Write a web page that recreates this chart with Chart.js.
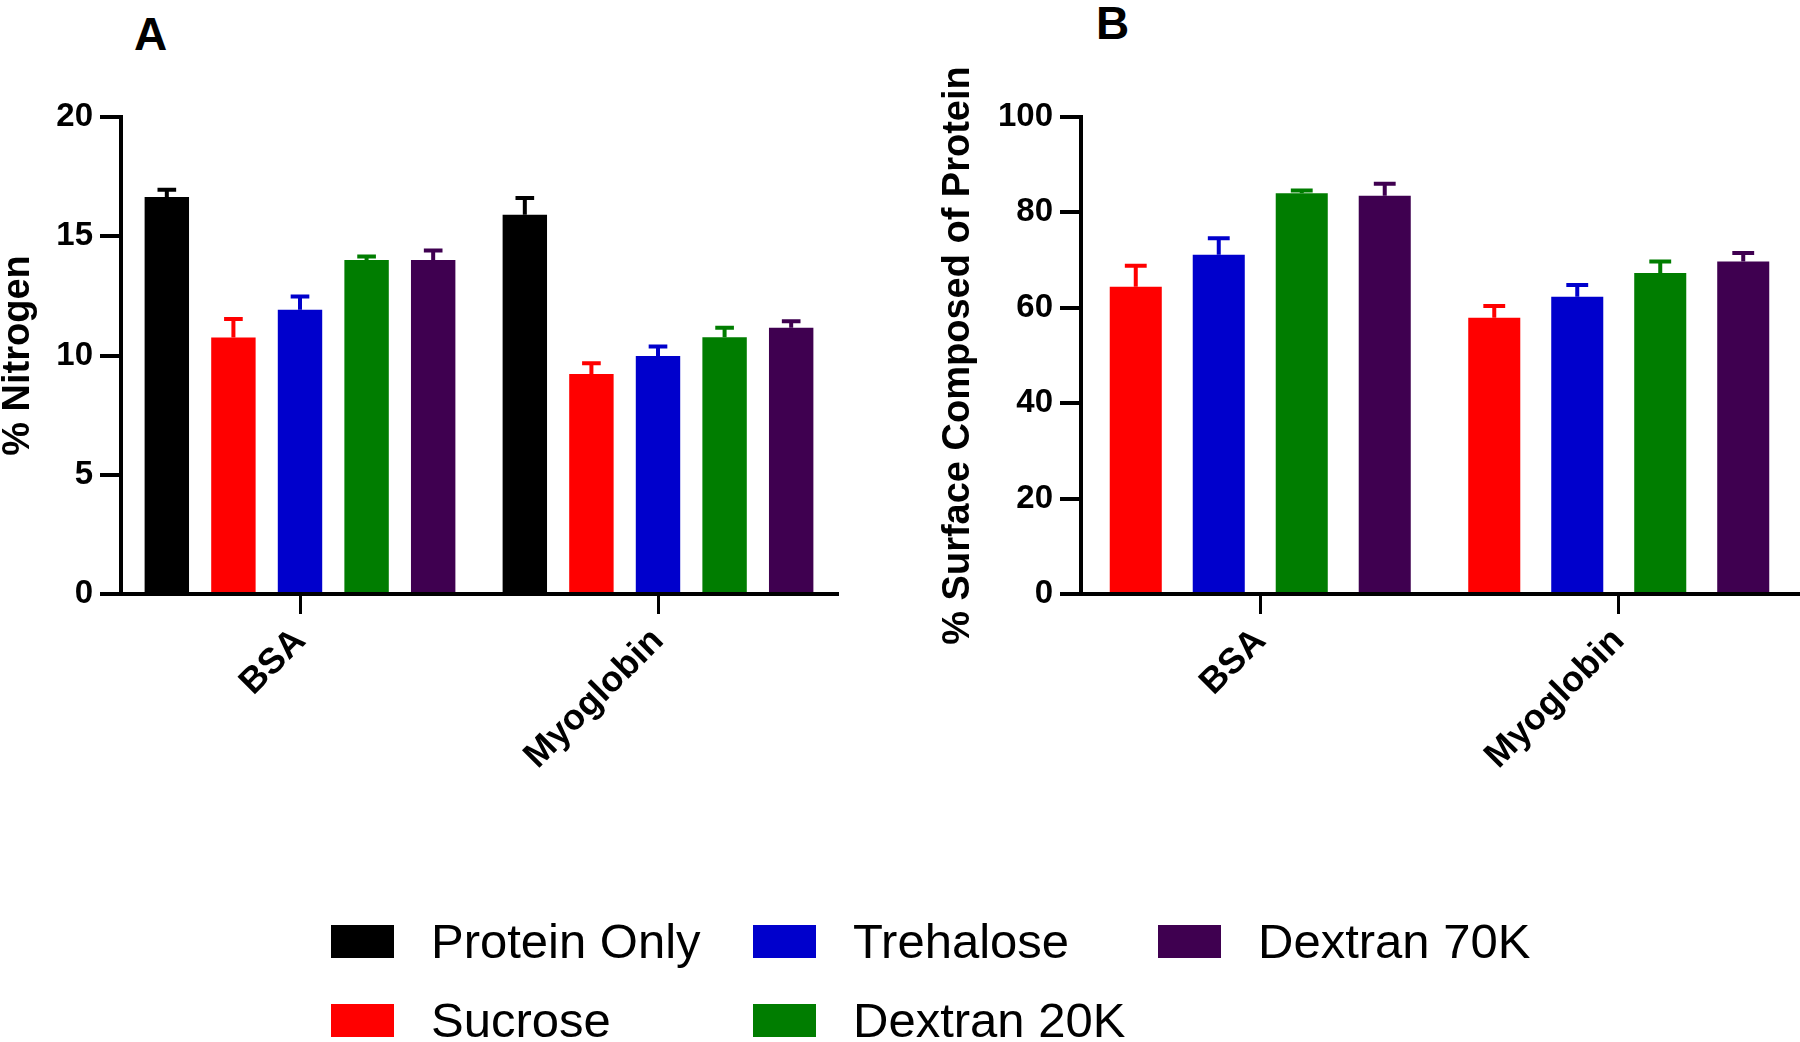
<!DOCTYPE html>
<html>
<head>
<meta charset="utf-8">
<script src="https://cdn.jsdelivr.net/npm/chart.js@4.4.1/dist/chart.umd.min.js"></script>
<style>
  html, body { margin: 0; padding: 0; background: #fff; }
  body { width: 1800px; height: 1042px; position: relative; overflow: hidden; font-family: "Liberation Sans", Arial, sans-serif; }
  canvas { position: absolute; top: 0; }
  #chart-a { left: 0; }
  #chart-b { left: 940px; }
  .panel-tag { position: absolute; font-weight: bold; font-size: 46px; line-height: 1; color: #000; }
  #legend {
    position: absolute; left: 331px; top: 925px;
    display: grid; grid-auto-flow: column;
    grid-template-rows: 33px 33px; row-gap: 46px;
    grid-template-columns: 422px 405px 400px;
  }
  .lg-item { display: flex; align-items: center; height: 33px; white-space: nowrap; }
  .lg-box { width: 63px; height: 33px; margin-right: 37px; flex: none; }
  .lg-text { font-size: 49px; line-height: 33px; color: #000; }
</style>
</head>
<body>
<div class="panel-tag" style="left:134px; top:11px;">A</div>
<div class="panel-tag" style="left:1096px; top:0px;">B</div>
<canvas id="chart-a" width="840" height="800"></canvas>
<canvas id="chart-b" width="860" height="800"></canvas>
<div id="legend"></div>
<script>
// categories and series
const categories = ['BSA', 'Myoglobin'];
const seriesNames = ['Protein Only', 'Sucrose', 'Trehalose', 'Dextran 20K', 'Dextran 70K'];
const seriesColors = ['#000000', '#ff0000', '#0000cc', '#007d00', '#3f0050'];

// Panel A: % Nitrogen (mean, +SD)
const nitrogenProteinOnly = [16.65, 15.9];
const nitrogenSucrose = [10.75, 9.22];
const nitrogenTrehalose = [11.92, 9.98];
const nitrogenDextran20K = [14.0, 10.76];
const nitrogenDextran70K = [14.0, 11.16];
const nitrogenProteinOnlyErr = [0.3, 0.7];
const nitrogenSucroseErr = [0.78, 0.45];
const nitrogenTrehaloseErr = [0.55, 0.4];
const nitrogenDextran20KErr = [0.15, 0.4];
const nitrogenDextran70KErr = [0.4, 0.28];
const nitrogenTicks = [0, 5, 10, 15, 20];

// Panel B: % surface composed of protein (mean, +SD)
const surfaceSucrose = [64.4, 57.9];
const surfaceTrehalose = [71.1, 62.3];
const surfaceDextran20K = [84.0, 67.3];
const surfaceDextran70K = [83.5, 69.7];
const surfaceSucroseErr = [4.4, 2.5];
const surfaceTrehaloseErr = [3.5, 2.5];
const surfaceDextran20KErr = [0.6, 2.4];
const surfaceDextran70KErr = [2.5, 1.8];
const surfaceTicks = [0, 20, 40, 60, 80, 100];

Chart.defaults.font.family = '"Liberation Sans", Arial, sans-serif';
Chart.defaults.color = '#000';

// only the upper error bar, drawn in the bar's colour
const errorBars = {
  id: 'errorBars',
  afterDatasetsDraw(chart) {
    const ctx = chart.ctx, y = chart.scales.y;
    chart.data.datasets.forEach((ds, i) => {
      const meta = chart.getDatasetMeta(i);
      meta.data.forEach((bar, j) => {
        const top = y.getPixelForValue(ds.data[j] + ds.errors[j]);
        const half = bar.width * 0.21;
        ctx.save();
        ctx.strokeStyle = ds.backgroundColor;
        ctx.lineWidth = 4;
        ctx.beginPath();
        ctx.moveTo(bar.x, bar.y);
        ctx.lineTo(bar.x, top);
        ctx.moveTo(bar.x - half, top);
        ctx.lineTo(bar.x + half, top);
        ctx.stroke();
        ctx.restore();
      });
    });
  }
};

function ds(name, data, errors, catPct, barPct) {
  const c = seriesColors[seriesNames.indexOf(name)];
  return { label: name, data, errors, backgroundColor: c, borderWidth: 0, categoryPercentage: catPct, barPercentage: barPct };
}

function makeChart(id, datasets, yTitle, ticks, yWidth, padRight) {
  return new Chart(document.getElementById(id), {
    type: 'bar',
    data: { labels: categories, datasets },
    options: {
      responsive: false, animation: false,
      layout: { padding: { top: 117, right: padRight, bottom: 0, left: 0 } },
      plugins: { legend: { display: false }, tooltip: { enabled: false } },
      scales: {
        x: {
          offset: true,
          grid: { display: true, drawOnChartArea: false, drawTicks: true, tickLength: 20, lineWidth: 3, color: '#000', offset: false },
          border: { display: true, width: 4, color: '#000' },
          ticks: { font: { size: 36, weight: 'bold' }, color: '#000', minRotation: 45, maxRotation: 45, padding: 6 },
          afterFit: (s) => { s.height = 206; }
        },
        y: {
          min: ticks[0], max: ticks[ticks.length - 1],
          afterBuildTicks: (s) => { s.ticks = ticks.map((v) => ({ value: v })); },
          grid: { display: true, drawOnChartArea: false, drawTicks: true, tickLength: 21, lineWidth: 4, color: '#000' },
          border: { display: true, width: 4, color: '#000' },
          ticks: { font: { size: 33, weight: 'bold' }, color: '#000', padding: 7 },
          title: { display: true, text: yTitle, font: { size: 38, weight: 'bold', lineHeight: 1 }, color: '#000', padding: 0 },
          afterFit: (s) => { s.width = yWidth; }
        }
      }
    },
    plugins: [errorBars]
  });
}

makeChart('chart-a', [
  ds('Protein Only', nitrogenProteinOnly, nitrogenProteinOnlyErr, 0.93, 0.667),
  ds('Sucrose', nitrogenSucrose, nitrogenSucroseErr, 0.93, 0.667),
  ds('Trehalose', nitrogenTrehalose, nitrogenTrehaloseErr, 0.93, 0.667),
  ds('Dextran 20K', nitrogenDextran20K, nitrogenDextran20KErr, 0.93, 0.667),
  ds('Dextran 70K', nitrogenDextran70K, nitrogenDextran70KErr, 0.93, 0.667)
], '% Nitrogen', nitrogenTicks, 121, 3);

makeChart('chart-b', [
  ds('Sucrose', surfaceSucrose, surfaceSucroseErr, 0.926, 0.627),
  ds('Trehalose', surfaceTrehalose, surfaceTrehaloseErr, 0.926, 0.627),
  ds('Dextran 20K', surfaceDextran20K, surfaceDextran20KErr, 0.926, 0.627),
  ds('Dextran 70K', surfaceDextran70K, surfaceDextran70KErr, 0.926, 0.627)
], '% Surface Composed of Protein', surfaceTicks, 141, 2);

// legend, column by column like the figure
const legend = document.getElementById('legend');
seriesNames.forEach((name, i) => {
  const item = document.createElement('div');
  item.className = 'lg-item';
  item.innerHTML = '<span class="lg-box" style="background:' + seriesColors[i] + '"></span><span class="lg-text">' + name + '</span>';
  legend.appendChild(item);
});
</script>
</body>
</html>
